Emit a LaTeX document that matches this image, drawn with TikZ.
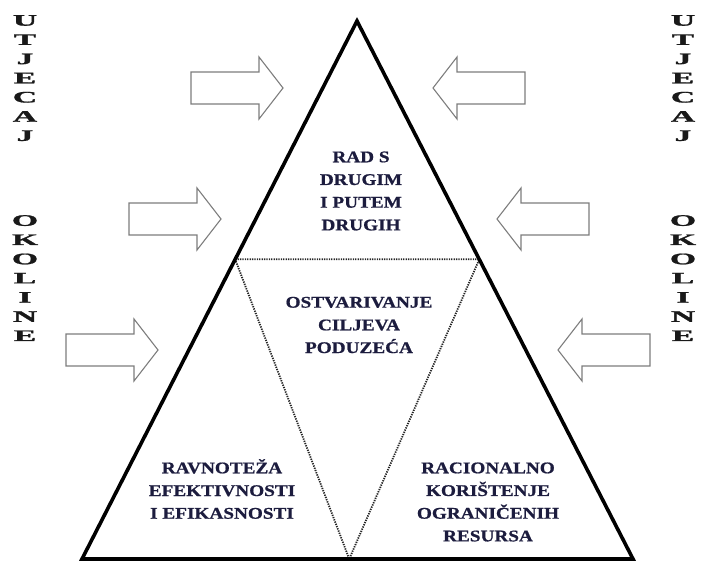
\documentclass[tikz,border=0pt]{standalone}
\usepackage{fontspec}
\setmainfont{Liberation Serif}
\newfontfamily\trifont[FakeStretch=1.18, FakeBold=0.9]{Liberation Serif Bold}
\newfontfamily\sidefont[FakeBold=1.2]{Liberation Serif Bold}
\usepackage{xcolor}
\usepackage{tikz}
\usetikzlibrary{calc}
\usetikzlibrary{positioning}
\definecolor{txtblue}{RGB}{28,28,62}
\definecolor{arrowgray}{RGB}{125,125,125}

\begin{document}
\begin{tikzpicture}[x=1pt, y=-1pt,
  outline/.style={line width=3.6pt, black},
  dotline/.style={line width=1.8pt, dash pattern=on 1.3pt off 1.1pt, black!85},
  goaltext/.style={align=center, text=txtblue, inner sep=0pt, font=\trifont\fontsize{16.3}{22.7}\selectfont},
  envtext/.style={align=center, text=black!90, inner sep=0pt, anchor=north, xscale=2.1, transform shape, font=\sidefont\fontsize{16}{19.2}\selectfont},
  inarrow/.pic={\draw[arrowgray, line width=1.1pt] (0,0) -- (-24,-31) -- (-24,-16) -- (-92,-16) -- (-92,16) -- (-24,16) -- (-24,31) -- cycle;}]
\useasboundingbox (0,0) rectangle (703,561);
% pyramid
\coordinate (apex) at (357,21);
\coordinate (bl) at (82,559);
\coordinate (br) at (633,559);
\coordinate (ml) at ($(apex)!0.443!(bl)$);
\coordinate (mr) at ($(apex)!0.443!(br)$);
\coordinate (bm) at ($(bl)!0.485!(br)$);
\draw[dotline] (ml) -- (mr) -- (bm) -- cycle;
\draw[outline] (apex) -- (bl) -- (br) -- cycle;
% texts inside
\node[goaltext] (rad) at (361,191) {RAD S\\DRUGIM\\I PUTEM\\DRUGIH};
\node[goaltext] (ciljevi) at (359,325) {OSTVARIVANJE\\CILJEVA\\PODUZEĆA};
\node[goaltext] (ravnoteza) at (222,489) {RAVNOTEŽA\\EFEKTIVNOSTI\\I EFIKASNOSTI};
\node[goaltext] (resursi) at (488,502) {RACIONALNO\\KORIŠTENJE\\OGRANIČENIH\\RESURSA};
% influence of environment
\node[envtext] (utjecajL) at (25,15) {U\\T\\J\\E\\C\\A\\J};
\node[envtext] (okolineL) at (25,215) {O\\K\\O\\L\\I\\N\\E};
\node[envtext] (utjecajR) at (683,15) {U\\T\\J\\E\\C\\A\\J};
\node[envtext] (okolineR) at (683,215) {O\\K\\O\\L\\I\\N\\E};
\pic at (283,88) {inarrow};
\pic at (221,219) {inarrow};
\pic at (158,350) {inarrow};
\pic[xscale=-1] at (433,88) {inarrow};
\pic[xscale=-1] at (497,219) {inarrow};
\pic[xscale=-1] at (558,350) {inarrow};
\end{tikzpicture}
\end{document}
